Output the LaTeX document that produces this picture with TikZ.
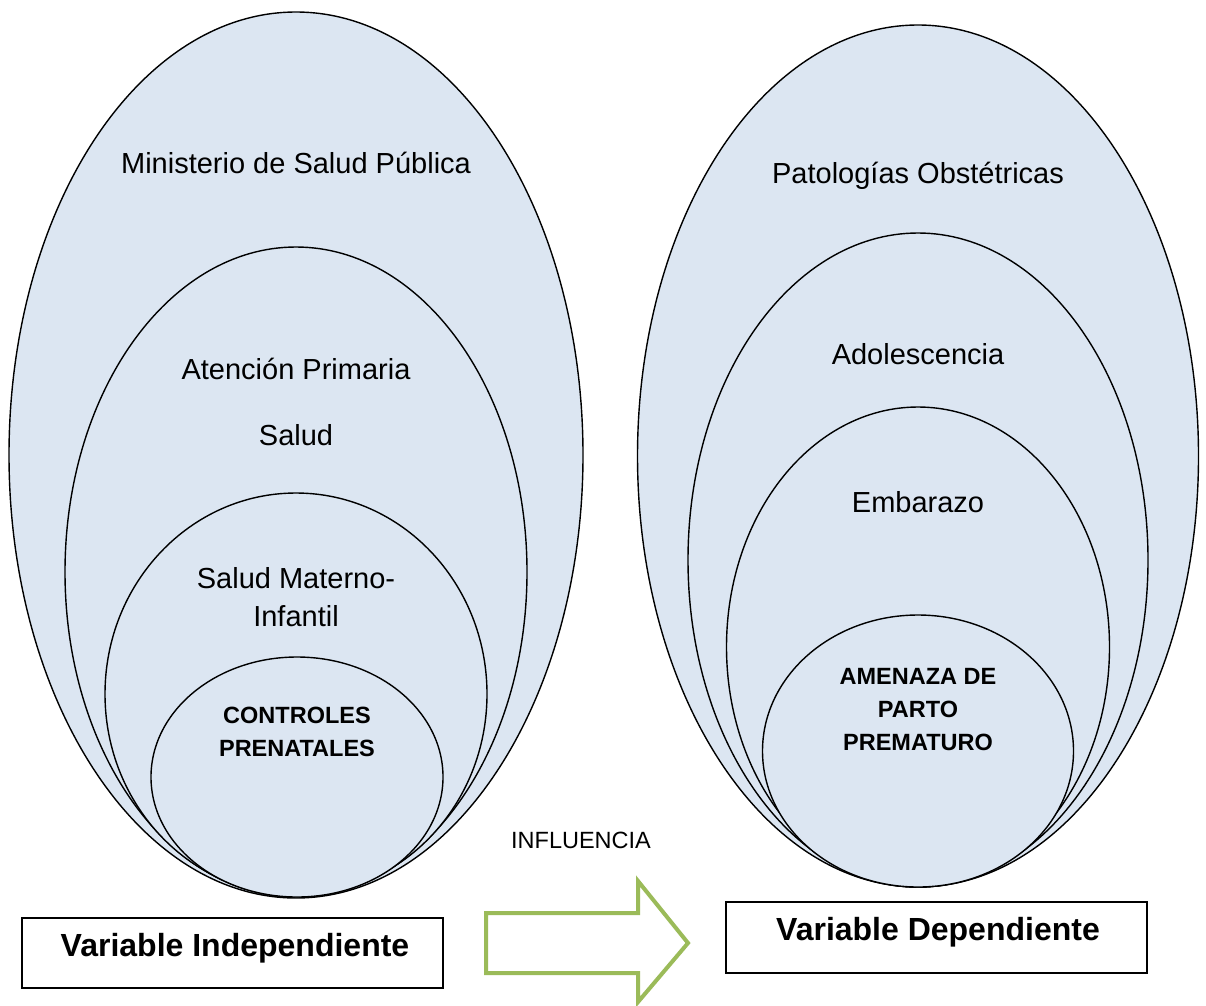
\documentclass[tikz,border=0pt]{standalone}
\usepackage{fontspec}
\setmainfont{Liberation Sans}
\usetikzlibrary{shapes.geometric}
\definecolor{shell}{HTML}{DCE6F2}
\definecolor{arrowgreen}{HTML}{9BBB59}
\tikzset{
  layer/.style={ellipse, draw=black, fill=shell, line width=1.4pt, inner sep=0pt, outer sep=0pt},
  lbl/.style={inner sep=0pt, align=center, font=\fontsize{29}{38}\selectfont},
  core/.style={inner sep=0pt, align=center, font=\fontsize{23.5}{33}\selectfont\bfseries},
  varbox/.style={draw=black, line width=1.4pt, fill=white, inner sep=0pt, outer sep=0pt},
  vartext/.style={inner sep=0pt, font=\fontsize{32}{38}\selectfont\bfseries}
}
\begin{document}
\begin{tikzpicture}[x=1pt, y=-1pt]
\useasboundingbox (0,0) rectangle (1206,1005);

% left family of nested ellipses
\node[layer, minimum width=574, minimum height=886] (l1) at (296,455) {};
\node[layer, minimum width=462, minimum height=650] (l2) at (296,572) {};
\node[layer, minimum width=382, minimum height=402] (l3) at (296,694) {};
\node[layer, minimum width=292, minimum height=240] (l4) at (297,777) {};

\node[lbl] (t1) at (296,163) {Ministerio de Salud Pública};
\node[lbl] (t2) at (296,369) {Atención Primaria};
\node[lbl] (t3) at (296,435) {Salud};
\node[lbl] (t4) at (296,597) {Salud Materno-\\Infantil};
\node[core] (t5) at (297,732) {CONTROLES\\PRENATALES};

% right family of nested ellipses
\node[layer, minimum width=561, minimum height=862] (r1) at (918,456) {};
\node[layer, minimum width=460, minimum height=654] (r2) at (918,560) {};
\node[layer, minimum width=383, minimum height=480] (r3) at (918,647) {};
\node[layer, minimum width=311, minimum height=272] (r4) at (918,751) {};

\node[lbl] (u1) at (918,176) {Patologías Obstétricas};
\node[lbl] (u2) at (918,354) {Adolescencia};
\node[lbl] (u3) at (918,502) {Embarazo};
\node[core] (u4) at (918,710) {AMENAZA DE\\PARTO\\PREMATURO};

% variable boxes
\node[varbox, minimum width=421, minimum height=70] (vi) at (232.5,953) {};
\node[vartext] (vit) at (235,948) {Variable Independiente};
\node[varbox, minimum width=421, minimum height=71] (vd) at (936.5,937.5) {};
\node[vartext] (vdt) at (938,932) {Variable Dependiente};

% influence arrow
\node[inner sep=0pt, font=\fontsize{23.5}{28}\selectfont] (inf) at (581,840) {INFLUENCIA};
\coordinate (a1) at (486,913);
\coordinate (a2) at (638,913);
\coordinate (a3) at (638,881);
\coordinate (a4) at (688,943);
\coordinate (a5) at (638,1002);
\coordinate (a6) at (638,973);
\coordinate (a7) at (486,973);
\draw[arrowgreen, line width=4pt, line join=miter, fill=white]
  (a1) -- (a2) -- (a3) -- (a4) -- (a5) -- (a6) -- (a7) -- cycle;
\end{tikzpicture}
\end{document}
